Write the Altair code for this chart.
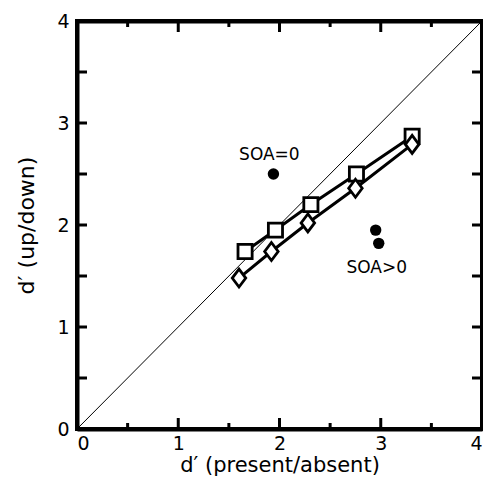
import altair as alt
import pandas as pd

# --- data ---
sq_x = [1.66, 1.96, 2.31, 2.76, 3.31]
sq_y = [1.74, 1.95, 2.20, 2.50, 2.87]
di_x = [1.60, 1.92, 2.28, 2.75, 3.31]
di_y = [1.48, 1.74, 2.02, 2.36, 2.79]
dot_x = [1.94, 2.95, 2.98]
dot_y = [2.50, 1.95, 1.82]
lab_text = ["SOA=0", "SOA>0"]
lab_x = [1.90, 2.96]
lab_y = [2.69, 1.58]
diag_v = [0, 4]
frame_v = [0, 4]
major_ticks = [0, 1, 2, 3, 4]
minor_ticks = [0.5, 1.5, 2.5, 3.5]
all_ticks = [0.5, 1, 1.5, 2, 2.5, 3, 3.5]

W = 405
H = 408
FONT = "DejaVu Sans"

xs = alt.Scale(domain=[0, 4], nice=False, zero=False)
ys = alt.Scale(domain=[0, 4], nice=False, zero=False)
frame_axis = dict(grid=False, domain=True, domainWidth=4, domainColor="black", ticks=False, tickSize=0)
xaxis = alt.Axis(values=major_ticks, orient="bottom",
                 labelFontSize=19, labelPadding=5, labelColor="black", labelFont=FONT,
                 title="d′ (present/absent)", titleFontSize=21, titleFontWeight="normal",
                 titleColor="black", titleFont=FONT, titlePadding=1, format="d", **frame_axis)
yaxis = alt.Axis(values=major_ticks, orient="left",
                 labelFontSize=19, labelPadding=8, labelColor="black", labelFont=FONT,
                 title="d′ (up/down)", titleFontSize=22, titleFontWeight="normal",
                 titleColor="black", titleFont=FONT, titlePadding=18, format="d", **frame_axis)
xaxis_top = alt.Axis(orient="top", labels=False, title=None, **frame_axis)
yaxis_right = alt.Axis(orient="right", labels=False, title=None, **frame_axis)


def X(f, ax=None):
    return alt.X(f, type="quantitative", scale=xs, axis=ax)


def Y(f, ax=None):
    return alt.Y(f, type="quantitative", scale=ys, axis=ax)


diag = pd.DataFrame({"x": diag_v, "y": diag_v})
sq = pd.DataFrame({"x": sq_x, "y": sq_y})
di = pd.DataFrame({"x": di_x, "y": di_y})
dots = pd.DataFrame({"x": dot_x, "y": dot_y})
labs = pd.DataFrame({"x": lab_x, "y": lab_y, "t": lab_text})
tmaj = pd.DataFrame({"v": major_ticks[1:-1]})
tmin = pd.DataFrame({"v": minor_ticks})
tall = pd.DataFrame({"v": all_ticks})
fr = pd.DataFrame({"v": frame_v})

# invisible layer that only carries the mirrored (top/right) frame axes
mirror = alt.Chart(fr).mark_point(opacity=0).encode(x=X("v", xaxis_top), y=Y("v", yaxis_right))
diag_l = alt.Chart(diag).mark_line(color="black", strokeWidth=1).encode(x=X("x", xaxis), y=Y("y", yaxis))
sq_l = alt.Chart(sq).mark_line(color="black", strokeWidth=3).encode(x=X("x"), y=Y("y"))
sq_p = alt.Chart(sq).mark_point(shape="square", filled=True, fill="white", stroke="black",
                                strokeWidth=2.8, size=200, opacity=1).encode(x=X("x"), y=Y("y"))
di_l = alt.Chart(di).mark_line(color="black", strokeWidth=3).encode(x=X("x"), y=Y("y"))
di_p = alt.Chart(di).mark_point(shape="M0,-1L0.75,0L0,1L-0.75,0Z", filled=True, fill="white",
                                stroke="black", strokeWidth=2.8, size=324, opacity=1).encode(x=X("x"), y=Y("y"))
dot_p = alt.Chart(dots).mark_circle(color="black", size=130, opacity=1).encode(x=X("x"), y=Y("y"))
txt = alt.Chart(labs).mark_text(fontSize=17, font=FONT, color="black", align="center",
                                baseline="middle").encode(x=X("x"), y=Y("y"), text="t:N")

tick_style = dict(color="black", strokeWidth=3)
bot_maj = alt.Chart(tmaj).mark_rule(**tick_style).encode(x=X("v"), y=alt.value(H), y2=alt.value(H - 11))
bot_min = alt.Chart(tmin).mark_rule(**tick_style).encode(x=X("v"), y=alt.value(H), y2=alt.value(H - 6))
top_maj = alt.Chart(tmaj).mark_rule(**tick_style).encode(x=X("v"), y=alt.value(0), y2=alt.value(11))
top_min = alt.Chart(tmin).mark_rule(**tick_style).encode(x=X("v"), y=alt.value(0), y2=alt.value(6))
left_t = alt.Chart(tall).mark_rule(**tick_style).encode(y=Y("v"), x=alt.value(0), x2=alt.value(10))
right_t = alt.Chart(tall).mark_rule(**tick_style).encode(y=Y("v"), x=alt.value(W), x2=alt.value(W - 10))

chart = alt.layer(
    diag_l, mirror, bot_maj, bot_min, top_maj, top_min, left_t, right_t,
    sq_l, sq_p, di_l, di_p, dot_p, txt
).resolve_axis(x="independent", y="independent").properties(
    width=W, height=H,
    autosize=alt.AutoSizeParams(type="none"),
    padding={"left": 69, "top": 13, "right": 1, "bottom": 47},
    background="white",
).configure(font=FONT).configure_view(stroke="black", strokeWidth=4)

chart.save("out.html", embed_options={"renderer": "svg", "actions": False})
